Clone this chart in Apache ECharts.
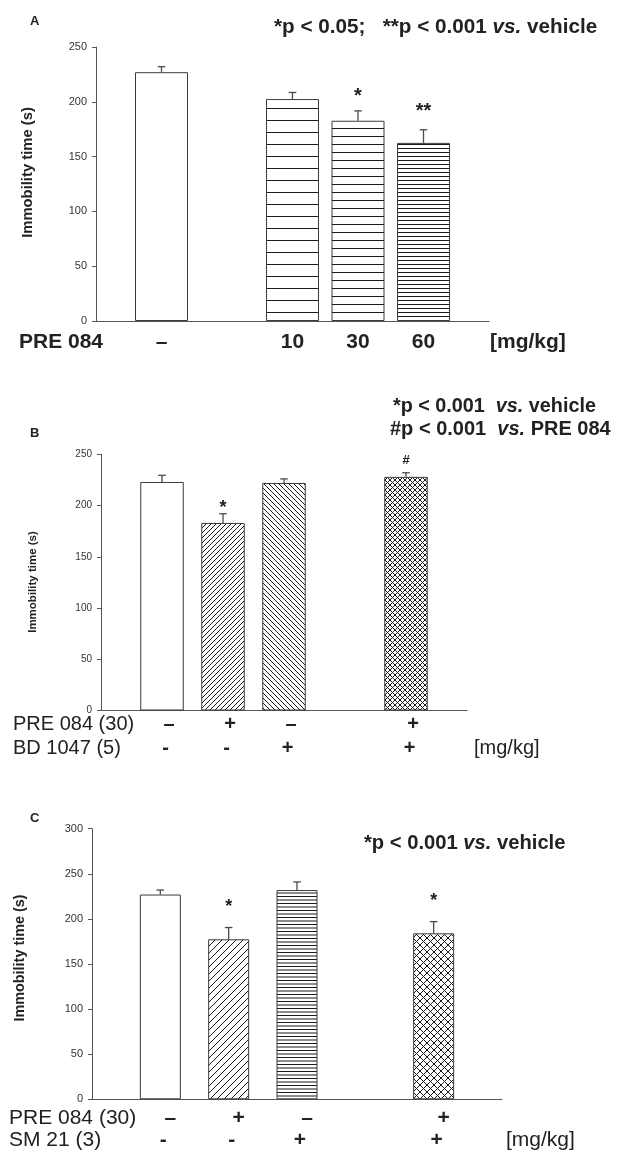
<!DOCTYPE html>
<html><head><meta charset="utf-8">
<script src="https://cdn.jsdelivr.net/npm/echarts@6/dist/echarts.min.js"></script>
<style>html,body{margin:0;padding:0;background:#fff}#c{width:622px;height:1153px}</style>
</head><body><div id="c"></div>
<script>
// ---------- DATA ----------
// Panel A
const catsA = ['', '–', '', '10', '30', '60', ''];
const valuesA = [null, 227, null, 202.5, 182.7, 162.5, null];
const semA = [null, 5, null, 6, 9, 12, null];
const sigA = ['', '', '', '', '*', '**', ''];
const yTicksA = [0, 50, 100, 150, 200, 250];
// Panel B
const preB = ['', '–', '+', '–', '', '+', ''];
const bdB = ['', '-', '-', '+', '', '+', ''];
const valuesB = [null, 223, 183, 222, null, 228, null];
const semB = [null, 6.5, 9, 4, null, 4, null];
const sigB = ['', '', '*', '', '', '#', ''];
const yTicksB = [0, 50, 100, 150, 200, 250];
// Panel C
const preC = ['', '–', '+', '–', '', '+', ''];
const smC = ['', '-', '-', '+', '', '+', ''];
const valuesC = [null, 227, 177.4, 232, null, 184, null];
const semC = [null, 5, 13, 9, null, 13, null];
const sigC = ['', '', '*', '', '', '*', ''];
const yTicksC = [0, 50, 100, 150, 200, 250, 300];

// ---------- STYLES ----------
const FF = '"Liberation Sans", Arial, Helvetica, sans-serif';
const fillA = [null, 'plain', null, 'h12', 'h8', 'h4', null];
const fillB = [null, 'plain', 'fwd5', 'back5', null, 'cross5', null];
const fillC = [null, 'plain', 'fwd7', 'h35', null, 'cross7', null];

function mk(w, h, draw) {
  const c = document.createElement('canvas');
  c.width = w; c.height = h;
  const g = c.getContext('2d');
  g.fillStyle = '#fff'; g.fillRect(0, 0, w, h);
  g.strokeStyle = '#1a1a1a'; g.fillStyle = '#1a1a1a'; g.lineWidth = 1;
  draw(g, w, h);
  return { image: c, repeat: 'repeat' };
}
function hl(step) { return mk(4, step, g => g.fillRect(0, 0, 4, 1)); }
function diag(s, dir) {
  return mk(s, s, g => {
    g.beginPath();
    if (dir === '/' || dir === 'x') {
      g.moveTo(-1, s + 1); g.lineTo(s + 1, -1);
      g.moveTo(-1, 1); g.lineTo(1, -1);
      g.moveTo(s - 1, s + 1); g.lineTo(s + 1, s - 1);
    }
    if (dir === '\\' || dir === 'x') {
      g.moveTo(-1, -1); g.lineTo(s + 1, s + 1);
      g.moveTo(s - 1, -1); g.lineTo(s + 1, 1);
      g.moveTo(-1, s - 1); g.lineTo(1, s + 1);
    }
    g.stroke();
  });
}
const PAT = {
  plain: '#ffffff',
  h12: hl(12), h8: hl(8), h4: hl(4),
  h35: mk(4, 7, g => { g.fillRect(0, 0, 4, 1); g.fillRect(0, 3.5, 4, 1); }),
  fwd5: diag(5, '/'), back5: diag(5, '\\'), cross5: diag(5, 'x'),
  fwd7: diag(7, '/'), cross7: diag(7, 'x')
};

function barSeries(ai, values, fills, width) {
  return {
    type: 'bar', xAxisIndex: ai, yAxisIndex: ai, barWidth: width, silent: true,
    itemStyle: { borderColor: '#3a3a3a', borderWidth: 1 },
    data: values.map((v, i) => v == null ? '-' : { value: v, itemStyle: { color: PAT[fills[i]] } }),
    z: 2
  };
}
function errSeries(ai, values, sems, sig, mstyle) {
  const data = [];
  values.forEach((v, i) => { if (v != null) data.push([i, v, sems[i]]); });
  return {
    type: 'custom', xAxisIndex: ai, yAxisIndex: ai, silent: true, z: 3,
    data: data,
    encode: { x: 0, y: 1 },
    renderItem: function (params, api) {
      const i = api.value(0), v = api.value(1), s = api.value(2);
      const p0 = api.coord([i, v]), p1 = api.coord([i, v + s]);
      const hw = 3.8;
      const st = { stroke: '#4a4a4a', lineWidth: 1.3 };
      const ch = [
        { type: 'line', shape: { x1: p0[0], y1: p0[1], x2: p1[0], y2: p1[1] }, style: st },
        { type: 'line', shape: { x1: p1[0] - hw, y1: p1[1], x2: p1[0] + hw, y2: p1[1] }, style: st }
      ];
      const t = sig[i];
      if (t) {
        const m = mstyle[t];
        ch.push({ type: 'text', x: p1[0], y: p1[1] - m.gap,
          style: { text: t, font: 'bold ' + m.size + 'px ' + FF, fill: '#222', align: 'center', verticalAlign: 'middle', textAlign: 'center', textVerticalAlign: 'middle' } });
      }
      return { type: 'group', children: ch };
    }
  };
}
function yAx(gi, ticks, fs) {
  return {
    type: 'value', gridIndex: gi, min: ticks[0], max: ticks[ticks.length - 1], interval: ticks[1] - ticks[0],
    axisLine: { show: true, lineStyle: { color: '#555', width: 1 } },
    axisTick: { show: true, inside: false, length: 4, lineStyle: { color: '#555' } },
    axisLabel: { fontSize: fs, color: '#333', margin: 9, fontFamily: FF },
    splitLine: { show: false }
  };
}
function xAx(gi, cats, o) {
  return {
    type: 'category', gridIndex: gi, data: cats, boundaryGap: false, position: 'bottom',
    offset: o.offset || 0,
    axisLine: { show: o.line, lineStyle: { color: '#555', width: 1 } },
    axisTick: { show: false },
    splitLine: { show: false },
    axisLabel: { interval: 0, fontSize: o.fs, fontWeight: 'bold', color: '#222', margin: o.margin, fontFamily: FF, padding: o.pad || 0 }
  };
}
function txt(x, y, text, font, align, rot) {
  return { type: 'text', x: x, y: y, rotation: rot || 0, silent: true,
    style: { text: text, font: font, fill: '#222', align: align || 'left', verticalAlign: 'middle', textAlign: align || 'left', textVerticalAlign: 'middle' } };
}
function rtxt(x, y, parts, size) {
  return { type: 'text', x: x, y: y, silent: true,
    style: { text: parts, fill: '#222', align: 'left', verticalAlign: 'middle', textAlign: 'left', textVerticalAlign: 'middle',
      rich: { b: { fontFamily: FF, fontWeight: 'bold', fontSize: size, color: '#222' },
              i: { fontFamily: FF, fontWeight: 'bold', fontStyle: 'italic', fontSize: size, color: '#222' } } } };
}

const option = {
  animation: false,
  backgroundColor: '#fff',
  grid: [
    { left: 96, top: 47, width: 393, height: 274 },
    { left: 101, top: 454.3, width: 366, height: 256.2 },
    { left: 92, top: 828.7, width: 410, height: 270.6 }
  ],
  xAxis: [
    xAx(0, catsA, { line: true, fs: 21, margin: 11 }),
    xAx(1, preB, { line: true, fs: 20, margin: 3.5, pad: [0, 0, 0, 14] }),
    xAx(2, preC, { line: true, fs: 21, margin: 8, pad: [0, 0, 0, 20] }),
    xAx(1, bdB, { line: false, fs: 20, margin: 3.5, offset: 24, pad: [0, 0, 0, 7] }),
    xAx(2, smC, { line: false, fs: 21, margin: 8, offset: 22, pad: [0, 0, 0, 6] })
  ],
  yAxis: [yAx(0, yTicksA, 11), yAx(1, yTicksB, 10), yAx(2, yTicksC, 11),
    Object.assign(yAx(1, yTicksB, 10), { show: false }), Object.assign(yAx(2, yTicksC, 11), { show: false })],
  series: [
    barSeries(0, valuesA, fillA, 53),
    errSeries(0, valuesA, semA, sigA, { '*': { size: 20, gap: 14 }, '**': { size: 20, gap: 18 } }),
    barSeries(1, valuesB, fillB, 43.5),
    errSeries(1, valuesB, semB, sigB, { '*': { size: 18, gap: 5.5 }, '#': { size: 13, gap: 12.5 } }),
    barSeries(2, valuesC, fillC, 41),
    errSeries(2, valuesC, semC, sigC, { '*': { size: 18, gap: 20.5 } })
  ],
  graphic: [
    txt(30, 21.5, 'A', 'bold 13px ' + FF),
    txt(30, 433, 'B', 'bold 13px ' + FF),
    txt(30, 818, 'C', 'bold 13px ' + FF),
    txt(27.5, 172.5, 'Immobility time (s)', 'bold 14.8px ' + FF, 'center', Math.PI / 2),
    txt(33, 582, 'Immobility time (s)', 'bold 11.5px ' + FF, 'center', Math.PI / 2),
    txt(20, 958, 'Immobility time (s)', 'bold 14.4px ' + FF, 'center', Math.PI / 2),
    rtxt(274, 27.3, '{b|*p < 0.05;   **p < 0.001 }{i|vs.}{b| vehicle}', 20.7),
    rtxt(393, 406.7, '{b|*p < 0.001  }{i|vs.}{b| vehicle}', 19.8),
    rtxt(390, 429.3, '{b|#p < 0.001  }{i|vs.}{b| PRE 084}', 20),
    rtxt(364, 843.3, '{b|*p < 0.001 }{i|vs.}{b| vehicle}', 20.2),
    txt(19, 342.7, 'PRE 084', 'bold 21px ' + FF),
    txt(490, 342.7, '[mg/kg]', 'bold 21px ' + FF),
    txt(13, 724, 'PRE 084 (30)', '20px ' + FF),
    txt(13, 748, 'BD 1047 (5)', '20px ' + FF),
    txt(474, 748, '[mg/kg]', '20px ' + FF),
    txt(9, 1118, 'PRE 084 (30)', '21px ' + FF),
    txt(9, 1140, 'SM 21 (3)', '21px ' + FF),
    txt(506, 1140, '[mg/kg]', '21px ' + FF)
  ]
};
const chart = echarts.init(document.getElementById('c'), null, { renderer: 'canvas' });
chart.setOption(option);
</script></body></html>
